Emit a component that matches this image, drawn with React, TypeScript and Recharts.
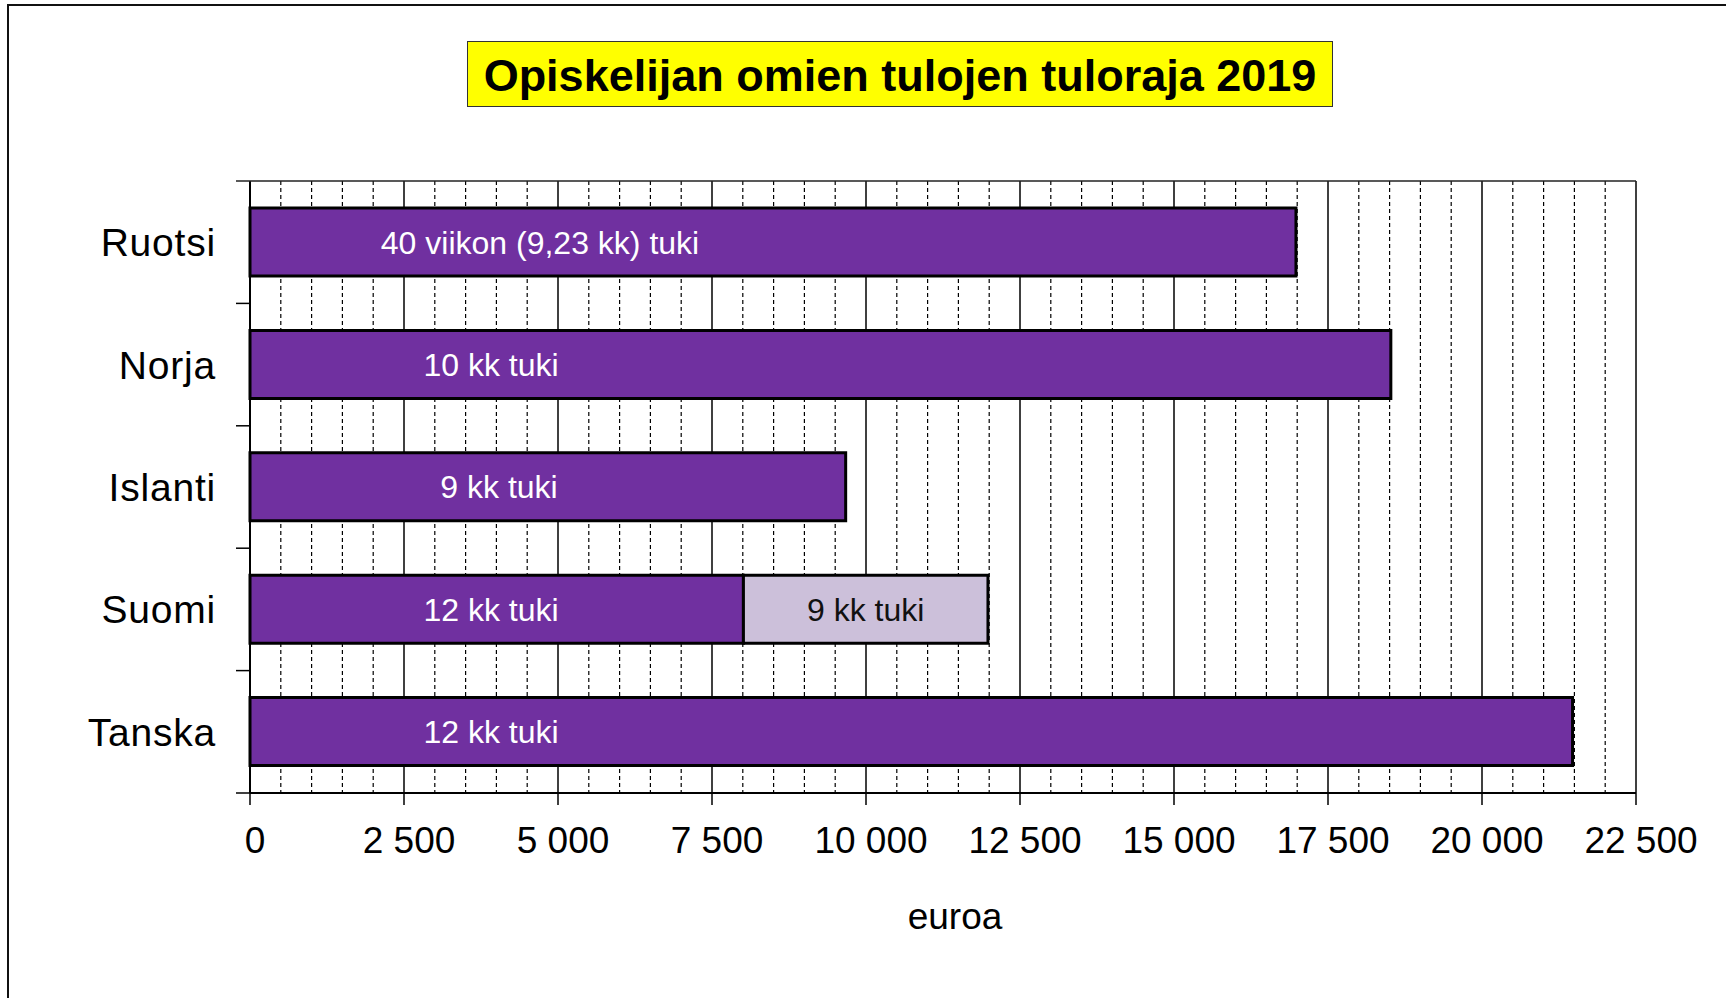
import { BarChart, Bar, XAxis, YAxis, CartesianGrid, LabelList } from "recharts";

const countries = ["Ruotsi", "Norja", "Islanti", "Suomi", "Tanska"];
// income limit with full-year support (purple) and the extra room with fewer months (light)
const fullSupportLimit = [16980, 18520, 9670, 8010, 21470];
const reducedSupportExtra = [0, 0, 0, 3970, 0];
const fullSupportLabels = [
  "40 viikon (9,23 kk) tuki",
  "10 kk tuki",
  "9 kk tuki",
  "12 kk tuki",
  "12 kk tuki",
];
const reducedSupportLabels = ["", "", "", "9 kk tuki", ""];
const X_MAX = 22500;
const MAJOR_STEP = 2500;
// one tick per 500 €, labels only on every 2 500
const xTicks = Array.from({ length: X_MAX / 500 + 1 }, (_, i) => i * 500);

const data = countries.map((country, i) => ({
  country,
  full: fullSupportLimit[i],
  extra: reducedSupportExtra[i],
  fullLabel: fullSupportLabels[i],
  extraLabel: reducedSupportLabels[i],
}));

const W = 1726;
const H = 998;
const MARGIN = { top: 181, right: 90, bottom: 55, left: 0 };
const Y_AXIS_W = 250;
const X_AXIS_H = 150;
const PLOT_LEFT = MARGIN.left + Y_AXIS_W;
const PLOT_W = W - MARGIN.right - PLOT_LEFT;
const BAND = (H - MARGIN.top - MARGIN.bottom - X_AXIS_H) / countries.length;
const FONT = '"Liberation Sans", Arial, sans-serif';

// where the text boxes sit, measured from the start of the bar
const labelCenter: Record<string, number> = { Ruotsi: 290, Islanti: 249 };

const fmt = (v: number) => String(v).replace(/\B(?=(\d{3})+(?!\d))/g, " ");

function GridLine(props: any) {
  const { x1, y1, x2, y2 } = props;
  const v = Math.round((((Number(x1) - PLOT_LEFT) / PLOT_W) * X_MAX) / 500) * 500;
  const major = v % MAJOR_STEP === 0;
  return (
    <line
      x1={x1}
      y1={y1}
      x2={x2}
      y2={y2}
      stroke="#000"
      strokeWidth={major ? 1.5 : 1.2}
      strokeDasharray={major ? undefined : "4 3"}
    />
  );
}

function EuroTick(props: any) {
  const { x, y, payload } = props;
  if (payload.value % MAJOR_STEP !== 0) return null;
  return (
    <g>
      <line x1={x} x2={x} y1={y} y2={y + 12} stroke="#000" strokeWidth={1.5} />
      <text x={x + 5} y={y + 60} textAnchor="middle" fontSize={37} fill="#000" fontFamily={FONT}>
        {fmt(payload.value)}
      </text>
    </g>
  );
}

function CountryTick(props: any) {
  const { x, y, payload, index } = props;
  return (
    <g>
      <text
        x={x - 34}
        y={y + 14}
        textAnchor="end"
        fontSize={39}
        letterSpacing={0.8}
        fill="#000"
        fontFamily={FONT}
      >
        {payload.value}
      </text>
      {index === 0 && (
        <line x1={x - 14} x2={x + PLOT_W} y1={y - BAND / 2} y2={y - BAND / 2} stroke="#222" strokeWidth={1.5} />
      )}
      <line x1={x - 14} x2={x} y1={y + BAND / 2} y2={y + BAND / 2} stroke="#000" strokeWidth={1.5} />
    </g>
  );
}

function FullLabel(props: any) {
  const { x, y, height, index, value } = props;
  if (!value) return null;
  const off = labelCenter[countries[index]] ?? 241;
  return (
    <text
      x={Number(x) + off}
      y={Number(y) + Number(height) / 2 + 11.5}
      textAnchor="middle"
      fontSize={32}
      fill="#fff"
      fontFamily={FONT}
    >
      {value}
    </text>
  );
}

function ExtraLabel(props: any) {
  const { x, y, width, height, value } = props;
  if (!value) return null;
  return (
    <text
      x={Number(x) + Number(width) / 2}
      y={Number(y) + Number(height) / 2 + 11.5}
      textAnchor="middle"
      fontSize={32}
      fill="#111"
      fontFamily={FONT}
    >
      {value}
    </text>
  );
}

function AxisTitle(props: any) {
  const { viewBox } = props;
  return (
    <text
      x={viewBox.x + viewBox.width / 2 + 12}
      y={viewBox.y + 136}
      textAnchor="middle"
      fontSize={37}
      fill="#000"
      fontFamily={FONT}
    >
      euroa
    </text>
  );
}

export default function App() {
  return (
    <div
      style={{
        position: "absolute",
        left: 0,
        top: 0,
        width: W,
        height: H,
        overflow: "hidden",
        background: "#fff",
        fontFamily: FONT,
      }}
    >
      <div
        style={{
          position: "absolute",
          left: 7,
          top: 4,
          width: W,
          height: H,
          borderLeft: "2px solid #111",
          borderTop: "2px solid #111",
        }}
      />
      <div style={{ position: "absolute", left: 0, top: 0 }}>
        <BarChart
          layout="vertical"
          width={W}
          height={H}
          data={data}
          margin={MARGIN}
          barSize={68}
        >
          <CartesianGrid horizontal={false} vertical={GridLine} />
          <XAxis
            type="number"
            domain={[0, X_MAX]}
            ticks={xTicks}
            interval={0}
            height={X_AXIS_H}
            tickSize={0}
            tickMargin={0}
            tickLine={false}
            axisLine={{ stroke: "#000", strokeWidth: 2 }}
            tick={<EuroTick />}
            label={<AxisTitle />}
          />
          <YAxis
            type="category"
            dataKey="country"
            width={Y_AXIS_W}
            tickSize={0}
            tickMargin={0}
            tickLine={false}
            interval={0}
            axisLine={{ stroke: "#000", strokeWidth: 2 }}
            tick={<CountryTick />}
          />
          <Bar dataKey="full" stackId="a" fill="#7030A0" stroke="#000" strokeWidth={3} isAnimationActive={false}>
            <LabelList dataKey="fullLabel" content={<FullLabel />} />
          </Bar>
          <Bar dataKey="extra" stackId="a" fill="#CCC0DA" stroke="#000" strokeWidth={3} isAnimationActive={false}>
            <LabelList dataKey="extraLabel" content={<ExtraLabel />} />
          </Bar>
        </BarChart>
      </div>
      <div
        style={{
          position: "absolute",
          left: 467,
          top: 41,
          width: 866,
          height: 66,
          boxSizing: "border-box",
          background: "#ffff00",
          border: "1.5px solid #333",
          display: "flex",
          alignItems: "center",
          justifyContent: "center",
          paddingTop: 4,
          fontSize: 45,
          fontWeight: "bold",
          color: "#000",
          whiteSpace: "nowrap",
        }}
      >
        Opiskelijan omien tulojen tuloraja 2019
      </div>
    </div>
  );
}
